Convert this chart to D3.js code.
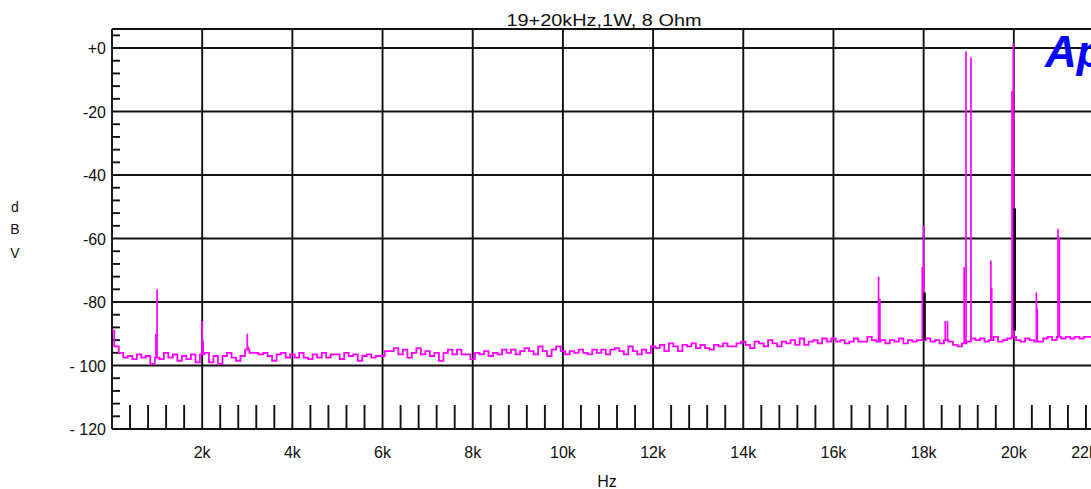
<!DOCTYPE html>
<html>
<head>
<meta charset="utf-8">
<script src="https://cdn.jsdelivr.net/npm/d3@7"></script>
<style>
  body { margin: 0; background: #fff; }
  svg { display: block; }
  text { font-family: "Liberation Sans", Arial, sans-serif; fill: #111; }
</style>
</head>
<body>
<div id="chart"></div>
<script>
// noise floor of the FFT, one value every 100 Hz from 0 Hz (dBV)
var noiseDb = [
  -89, -94, -96, -97.5, -97, -98, -96.5, -97.5, -97, -99.5,
  -97.5, -98, -96, -97.5, -96.5, -98.5, -97, -98, -96.5, -99,
  -96.5, -96, -99, -97, -99.5, -97, -96, -97.5, -98.5, -97,
  -95, -96, -96, -96.5, -96, -97, -98.5, -96.5, -96, -97.5,
  -96.5, -97.5, -96, -97.5, -98, -96.5, -97.5, -96, -97.5, -96.5,
  -96.5, -98, -96, -97, -96.5, -98.5, -97, -96.5, -97.5, -97,
  -97, -95.5, -95.5, -94.5, -96.5, -95, -97.5, -96, -94.5, -96.5,
  -95.5, -97, -96, -98.5, -96, -95, -96.5, -95, -96.5, -96.5,
  -98, -96, -96.5, -95.5, -97, -96, -96.5, -95, -96, -95,
  -96.5, -95.5, -94.5, -95.5, -96.5, -94, -95.5, -97, -95, -94,
  -95.5, -96.5, -95.5, -96, -95, -96, -96.5, -95, -96, -95,
  -96.5, -95, -94.5, -95.5, -96.5, -94, -95.5, -96.5, -95, -96,
  -94, -94.5, -93.5, -95.5, -93, -94, -95.5, -93.5, -94, -93,
  -94.5, -93.5, -94.5, -95, -93.5, -94, -93, -94, -94, -93,
  -92.5, -93.5, -94.5, -92.5, -93, -94, -92, -93, -94, -92.5,
  -93, -92, -93.5, -91.5, -93.5, -92.5, -92, -93, -91.5, -92.5,
  -91.5, -92.5, -92, -93, -92.5, -91.5, -92.5, -92.5, -91, -92,
  -92.5, -92, -93, -92, -92.5, -91.5, -93, -92, -92.5, -92,
  -92, -91.5, -92.5, -92, -93, -92, -92.5, -93.5, -94, -93,
  -92.5, -91.5, -92, -91.5, -92.5, -92, -91, -92.5, -92, -91.5,
  -91, -92, -92.5, -91.5, -92, -92.5, -92.5, -91.5, -91, -92,
  -91, -91.5, -91, -91.5, -91, -91.5, -91, -91, -91.5, -91,
  -91, -91.5, -91
];

// tones and distortion products (magenta trace)
var spikeHz = [975, 1000, 2000, 2020, 3000, 3020, 17000, 17030, 17970, 18000,
               18480, 18530, 18900, 18940, 19050, 19490, 19510, 19960, 19990,
               20500, 20520, 20980, 21010];
var spikeDb = [-90, -76, -86, -92, -90, -94, -72, -79, -69, -56,
               -86, -86, -69, -1, -3, -67, -75.5, -13.5, 1.5,
               -77, -82, -57, -59.5];

// second (black) trace, only visible where it rises above the first one
var blackHz = [18020, 20020];
var blackTop = [-77, -50.5];
var blackBase = [-92, -89];

var yTicks = [0, -20, -40, -60, -80, -100, -120];
var yTickLabels = ["+0", "-20", "-40", "-60", "-80", "- 100", "- 120"];
var xTicks = [2000, 4000, 6000, 8000, 10000, 12000, 14000, 16000, 18000, 20000, 22000];
var xTickLabels = ["2k", "4k", "6k", "8k", "10k", "12k", "14k", "16k", "18k", "20k", "22k"];

function drawSpectrum() {
  var width = 1091, height = 489;
  var plotLeft = 112, plotTop = 29, plotBottom = 429, plotRight = 1104;

  var svg = d3.select("#chart").append("svg")
    .attr("width", width)
    .attr("height", height);

  var x = d3.scaleLinear().domain([0, 22000]).range([plotLeft, plotRight]);
  var y = d3.scaleLinear().domain([-120, 6]).range([plotBottom, plotTop]);

  // grid
  var grid = svg.append("g").attr("stroke", "#111").attr("stroke-width", 1.9);
  grid.selectAll("line.h")
    .data(yTicks.concat([6]))
    .enter().append("line")
      .attr("x1", plotLeft).attr("x2", plotRight)
      .attr("y1", function(d) { return y(d); })
      .attr("y2", function(d) { return y(d); });
  grid.selectAll("line.v")
    .data([0].concat(xTicks))
    .enter().append("line")
      .attr("x1", function(d) { return x(d); })
      .attr("x2", function(d) { return x(d); })
      .attr("y1", plotTop).attr("y2", plotBottom);

  // minor ticks, y every 4 dB, x every 400 Hz
  grid.selectAll("line.my")
    .data(d3.range(-116, 6, 4).filter(function(d) { return d % 20 != 0; }))
    .enter().append("line")
      .attr("x1", plotLeft).attr("x2", plotLeft + 8)
      .attr("y1", function(d) { return y(d); })
      .attr("y2", function(d) { return y(d); });
  grid.selectAll("line.mx")
    .data(d3.range(400, 22400, 400).filter(function(d) { return d % 2000 != 0; }))
    .enter().append("line")
      .attr("x1", function(d) { return x(d); })
      .attr("x2", function(d) { return x(d); })
      .attr("y1", plotBottom - 24).attr("y2", plotBottom);

  // magenta noise trace
  var noisePts = noiseDb.map(function(v, i) { return [i * 100, v]; });
  var line = d3.line()
    .x(function(d) { return x(d[0]); })
    .y(function(d) { return y(d[1]); })
    .curve(d3.curveStep);

  svg.append("path")
    .datum(noisePts)
    .attr("fill", "none")
    .attr("stroke", "#ff00ff")
    .attr("stroke-width", 1.8)
    .attr("d", line);

  // spikes
  svg.append("g").selectAll("line")
    .data(spikeHz.map(function(f, i) { return { f: f, db: spikeDb[i] }; }))
    .enter().append("line")
      .attr("stroke", "#ff00ff")
      .attr("stroke-width", 1.7)
      .attr("x1", function(d) { return x(d.f); })
      .attr("x2", function(d) { return x(d.f); })
      .attr("y1", function(d) { return y(noiseDb[Math.round(d.f / 100)]); })
      .attr("y2", function(d) { return y(d.db); });

  svg.append("g").selectAll("line")
    .data(blackHz.map(function(f, i) { return { f: f, t: blackTop[i], b: blackBase[i] }; }))
    .enter().append("line")
      .attr("stroke", "#000")
      .attr("stroke-width", 2.6)
      .attr("x1", function(d) { return x(d.f); })
      .attr("x2", function(d) { return x(d.f); })
      .attr("y1", function(d) { return y(d.b); })
      .attr("y2", function(d) { return y(d.t); });

  // axis labels
  svg.append("g").selectAll("text")
    .data(yTicks)
    .enter().append("text")
      .attr("x", 106)
      .attr("y", function(d) { return y(d) + 6; })
      .attr("text-anchor", "end")
      .style("font-size", "16px")
      .text(function(d, i) { return yTickLabels[i]; });

  svg.append("g").selectAll("text")
    .data(xTicks)
    .enter().append("text")
      .attr("x", function(d, i) { return i == xTicks.length - 1 ? x(d) - 7 : x(d); })
      .attr("y", 458)
      .attr("text-anchor", function(d, i) { return i == xTicks.length - 1 ? "end" : "middle"; })
      .style("font-size", "16px")
      .text(function(d, i) { return xTickLabels[i]; });

  svg.append("text")
    .attr("x", 607).attr("y", 487)
    .attr("text-anchor", "middle")
    .style("font-size", "16px")
    .text("Hz");

  svg.append("g").selectAll("text")
    .data(["d", "B", "V"])
    .enter().append("text")
      .attr("x", 15)
      .attr("y", function(d, i) { return [212, 234, 258][i]; })
      .attr("text-anchor", "middle")
      .style("font-size", "14px")
      .text(function(d) { return d; });

  svg.append("text")
    .attr("x", 604).attr("y", 26)
    .attr("text-anchor", "middle")
    .attr("textLength", 195)
    .attr("lengthAdjust", "spacingAndGlyphs")
    .style("font-size", "17px")
    .text("19+20kHz,1W, 8 Ohm");

  svg.append("text")
    .attr("x", 1045).attr("y", 67)
    .style("font-size", "44px")
    .style("font-weight", "bold")
    .style("font-style", "italic")
    .style("fill", "#0000ff")
    .text("Ap");
}

drawSpectrum();
</script>
</body>
</html>
